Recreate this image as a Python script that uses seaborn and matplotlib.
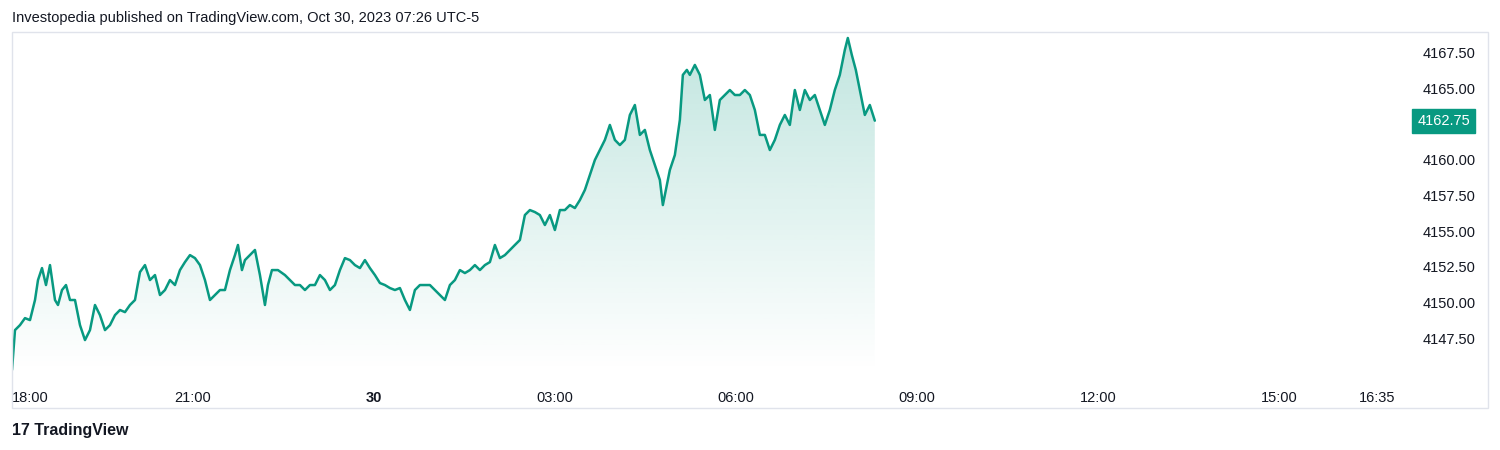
import matplotlib
matplotlib.use("Agg")
import matplotlib.pyplot as plt
from matplotlib.patches import Rectangle
import numpy as np
import pandas as pd
import seaborn as sns

# minutes (read roughly, offset by 20 and rescaled below) and E-mini S&P price
minutes = [-20, -17, -12, -7, -2, 3, 6, 10, 14, 18, 23, 26, 30, 34, 38, 43, 48, 53, 58, 63,
           68, 73, 78, 83, 88, 93, 98, 103, 108, 113, 118, 123, 128, 133, 138, 143, 148, 153, 158, 163,
           168, 173, 178, 183, 188, 193, 198, 203, 206, 210, 213, 218, 223, 228, 233, 236, 240, 246, 253, 258,
           263, 268, 273, 278, 283, 288, 293, 298, 303, 308, 313, 318, 323, 328, 333, 338, 343, 348, 353, 358,
           363, 368, 373, 378, 383, 388, 393, 398, 403, 408, 413, 418, 423, 428, 433, 438, 443, 448, 453, 458,
           463, 468, 473, 478, 483, 488, 493, 498, 503, 508, 513, 518, 523, 528, 533, 538, 543, 548, 553, 558,
           563, 568, 573, 578, 583, 588, 593, 598, 603, 608, 613, 618, 623, 628, 631, 635, 638, 643, 648, 651,
           655, 658, 663, 668, 673, 678, 683, 688, 693, 698, 703, 708, 713, 718, 723, 728, 733, 738, 743, 748,
           753, 758, 763, 768, 773, 778, 783, 788, 793, 798, 803, 808, 813, 816, 820, 824, 828, 833, 838, 843]
prices = [4145.26, 4148.06, 4148.41, 4148.90, 4148.76, 4150.17, 4151.57, 4152.41, 4151.22, 4152.62,
          4150.17, 4149.82, 4150.87, 4151.22, 4150.17, 4150.17, 4148.41, 4147.36, 4148.06, 4149.82,
          4149.11, 4148.06, 4148.41, 4149.11, 4149.47, 4149.32, 4149.82, 4150.17, 4152.13, 4152.62,
          4151.57, 4151.92, 4150.52, 4150.87, 4151.57, 4151.22, 4152.27, 4152.83, 4153.32, 4153.11,
          4152.62, 4151.57, 4150.17, 4150.52, 4150.87, 4150.87, 4152.27, 4153.32, 4154.03, 4152.27,
          4152.97, 4153.32, 4153.68, 4151.92, 4149.82, 4151.22, 4152.27, 4152.27, 4151.92, 4151.57,
          4151.22, 4151.22, 4150.87, 4151.22, 4151.22, 4151.92, 4151.57, 4150.87, 4151.22, 4152.27,
          4153.11, 4152.97, 4152.62, 4152.41, 4152.97, 4152.41, 4151.92, 4151.36, 4151.22, 4151.01,
          4150.87, 4151.01, 4150.17, 4149.47, 4150.87, 4151.22, 4151.22, 4151.22, 4150.87, 4150.52,
          4150.17, 4151.22, 4151.57, 4152.27, 4152.06, 4152.27, 4152.62, 4152.27, 4152.62, 4152.83,
          4154.03, 4153.11, 4153.32, 4153.68, 4154.03, 4154.38, 4156.13, 4156.48, 4156.34, 4156.13,
          4155.43, 4156.13, 4155.08, 4156.48, 4156.48, 4156.83, 4156.62, 4157.18, 4157.89, 4158.94,
          4159.99, 4160.69, 4161.40, 4162.45, 4161.40, 4161.04, 4161.40, 4163.15, 4163.85, 4161.75,
          4162.10, 4160.69, 4159.64, 4158.59, 4156.83, 4158.24, 4159.29, 4160.34, 4162.80, 4165.96,
          4166.31, 4165.96, 4166.66, 4165.96, 4164.20, 4164.55, 4162.10, 4164.20, 4164.55, 4164.90,
          4164.55, 4164.55, 4164.90, 4164.55, 4163.50, 4161.75, 4161.75, 4160.69, 4161.40, 4162.45,
          4163.15, 4162.45, 4164.90, 4163.50, 4164.90, 4164.20, 4164.55, 4163.50, 4162.45, 4163.50,
          4164.90, 4165.96, 4167.71, 4168.55, 4167.36, 4166.31, 4164.90, 4163.15, 4163.85, 4162.75]
tick_pos = [0, 180, 360, 540, 720, 900, 1080, 1260, 1357]
tick_labels = ["18:00", "21:00", "30", "03:00", "06:00", "09:00", "12:00", "15:00", "16:35"]
price_ticks = [4147.5, 4150.0, 4152.5, 4155.0, 4157.5, 4160.0, 4165.0, 4167.5]
last_price = 4162.75

green = "#089981"
df = pd.DataFrame({"minute": (np.array(minutes) + 20) * 0.994, "price": prices})

sns.set_style("white")
plt.rcParams["font.family"] = ["Liberation Sans", "DejaVu Sans"]

fig = plt.figure(figsize=(15, 4.5), dpi=100)
ax = fig.add_axes([12 / 1500, 78 / 450, 1383 / 1500, 340 / 450])
ymin, ymax = 4145.12, 4168.97
xmin, xmax = 0, 1375

# gradient fill under the line
grad = np.linspace(0.0, 0.25, 256).reshape(-1, 1)
rgba = np.zeros((256, 1, 4))
rgba[..., :3] = matplotlib.colors.to_rgb(green)
rgba[..., 3] = grad
img = ax.imshow(rgba, extent=[df["minute"].min(), df["minute"].max(), ymin, max(prices)],
                origin="lower", aspect="auto", zorder=1)
poly = ax.fill_between(df["minute"], df["price"], ymin, color="none")
img.set_clip_path(poly.get_paths()[0], transform=ax.transData)

sns.lineplot(data=df, x="minute", y="price", ax=ax, color=green, lw=1.8, zorder=3)

ax.set_xlim(xmin, xmax)
ax.set_ylim(ymin, ymax)
ax.set_xlabel("")
ax.set_ylabel("")
ax.set_xticks(tick_pos)
ax.set_xticklabels(tick_labels, fontsize=10.5, color="#131722")
for lab in ax.get_xticklabels():
    if lab.get_text() == "30":
        lab.set_fontweight("bold")
ax.get_xticklabels()[0].set_ha("left")
ax.yaxis.tick_right()
ax.set_yticks(price_ticks)
ax.set_yticklabels([f"{p:.2f}" for p in price_ticks], fontsize=10.5, color="#131722")
ax.tick_params(axis="both", length=0)
ax.tick_params(axis="x", pad=14)
ax.tick_params(axis="y", pad=20)
for s in ax.spines.values():
    s.set_visible(False)

# outer chart frame
fig.patches.append(Rectangle((12 / 1500, 42 / 450), 1476 / 1500, 376 / 450,
                             transform=fig.transFigure, fill=False, ec="#e0e3eb", lw=1))

# last price label
ax.annotate(f"{last_price:.2f}", xy=(1.0, last_price), xycoords=("axes fraction", "data"),
            xytext=(35, 0), textcoords="offset points", ha="center", va="center",
            fontsize=10.5, color="white",
            bbox=dict(boxstyle="square,pad=0.35", fc=green, ec=green))

fig.text(12 / 1500, 1 - 18 / 450, "Investopedia published on TradingView.com, Oct 30, 2023 07:26 UTC-5",
         fontsize=10.5, color="#131722", va="center")
fig.text(12 / 1500, 1 - 430 / 450, "17 TradingView", fontsize=11.5, color="#131722",
         va="center", fontweight="bold")

fig.savefig("out.png", dpi=100)
